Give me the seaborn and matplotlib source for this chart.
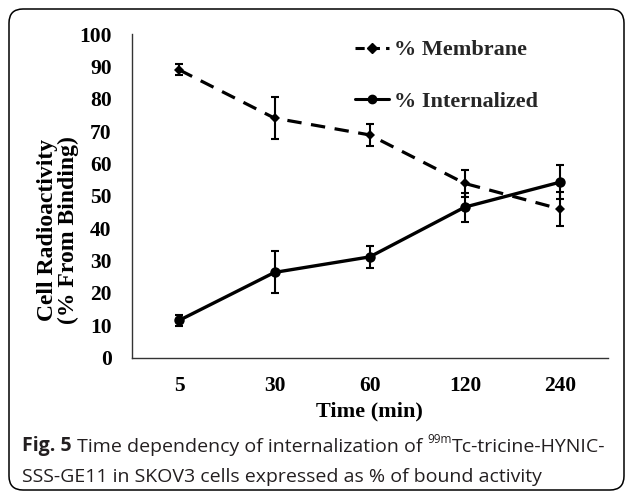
import numpy as np
import pandas as pd
import matplotlib
matplotlib.use("Agg")
import matplotlib.pyplot as plt
import seaborn as sns
from matplotlib.patches import FancyBboxPatch
from matplotlib.lines import Line2D

# ---- data ----
times = ["5", "30", "60", "120", "240"]
membrane = [88.9, 74.0, 68.8, 53.8, 45.9]
membrane_err = [1.7, 6.5, 3.5, 4.2, 5.2]
internalized = [11.5, 26.3, 31.1, 46.5, 54.2]
internalized_err = [1.7, 6.5, 3.3, 4.5, 5.2]
yticks = [0, 10, 20, 30, 40, 50, 60, 70, 80, 90, 100]

sns.set_theme(style="white")
plt.rcParams['font.family'] = ['DejaVu Sans']

W, H = 629, 497
fig = plt.figure(figsize=(W / 100, H / 100), dpi=100)
fig.patch.set_facecolor("white")

# axes placement in pixels
L, R, T, B = 131.7, 607.7, 34.0, 357.5
ax = fig.add_axes([L / W, 1 - B / H, (R - L) / W, (B - T) / H])
ax.set_facecolor("white")

pos = np.arange(len(times))
df = pd.DataFrame({"pos": np.concatenate([pos, pos]),
                   "val": membrane + internalized,
                   "series": ["% Membrane"] * len(times) + ["% Internalized"] * len(times)})

dm = df[df.series == "% Membrane"]
di = df[df.series == "% Internalized"]
sns.lineplot(data=dm, x="pos", y="val", ax=ax, color="black", linewidth=2.3,
             linestyle=(0, (4.5, 3.0)), marker="D", markersize=5, markeredgewidth=0)
sns.lineplot(data=di, x="pos", y="val", ax=ax, color="black", linewidth=2.4,
             marker="o", markersize=7.5, markeredgewidth=0)
ax.errorbar(pos, membrane, yerr=membrane_err, fmt="none", ecolor="black",
            elinewidth=1.5, capsize=3, capthick=1.5)
ax.errorbar(pos, internalized, yerr=internalized_err, fmt="none", ecolor="black",
            elinewidth=1.5, capsize=3, capthick=1.5)

ax.set_xlim(-0.5, len(times) - 0.5)
ax.set_ylim(0, 100)
ax.set_xticks(pos)
ax.set_xticklabels(times)
ax.set_yticks(yticks)
ax.set_yticklabels([str(v) for v in yticks])
ax.set_xlabel("")
ax.set_ylabel("")

serif = "Liberation Serif"
for lab in ax.get_xticklabels() + ax.get_yticklabels():
    lab.set_fontfamily(serif)
    lab.set_fontweight("bold")
    lab.set_fontsize(15.5)
    lab.set_color("black")
ax.tick_params(axis="x", length=0, pad=13)
ax.tick_params(axis="y", length=0, pad=14.5)

for s in ["top", "right"]:
    ax.spines[s].set_visible(False)
for s in ["left", "bottom"]:
    ax.spines[s].set_color("#333333")
    ax.spines[s].set_linewidth(1.0)
ax.grid(False)

# x label
fig.text((L + R) / 2 / W, 1 - 411 / H, "Time (min)", ha="center", va="center",
         family=serif, fontweight="bold", fontsize=16, color="black")
# y label
fig.text(58 / W, 1 - 230 / H, "Cell Radioactivity\n(% From Binding)", ha="center", va="center",
         rotation=90, family=serif, fontweight="bold", fontsize=17, color="black",
         linespacing=0.95, multialignment="center")

# legend
handles = [Line2D([0], [0], color="black", lw=2.2, linestyle=(0, (3, 2)), marker="D", markersize=5),
           Line2D([0], [0], color="black", lw=2.2, marker="o", markersize=6)]
leg = ax.legend(handles, ["% Membrane", "% Internalized"], loc="upper left",
                bbox_to_anchor=(0.47, 0.982), frameon=False, borderpad=0, borderaxespad=0,
                handlelength=1.5, handletextpad=0.25, labelspacing=1.4,
                prop={"family": serif, "weight": "bold", "size": 16})

# frame
frame = FancyBboxPatch((9, H - 490), 615, 481, boxstyle="round,pad=0,rounding_size=14",
                       transform=None, fill=False, edgecolor="black", linewidth=1.1)
fig.patches.append(frame)

# caption
cap_kw = dict(family="Open Sans", fontsize=14, color="#231f20")
t1 = fig.text(22 / W, 1 - 451 / H, "Fig. 5", fontweight="bold", va="baseline", **cap_kw)
t2 = ax.annotate(" Time dependency of internalization of ", xy=(1, 0), xycoords=t1,
                 va="bottom", ha="left", annotation_clip=False, **cap_kw)
t3 = ax.annotate("99m", xy=(1, 0.55), xycoords=t2, va="bottom", ha="left",
                 family="Open Sans", fontsize=8.5, color="#231f20", annotation_clip=False)
t4 = ax.annotate("Tc-tricine-HYNIC-", xy=(1, 0), xycoords=(t3, t2), va="bottom", ha="left",
                 annotation_clip=False, **cap_kw)
fig.text(22 / W, 1 - 482 / H, "SSS-GE11 in SKOV3 cells expressed as % of bound activity",
         va="baseline", **cap_kw)

fig.savefig("out.png", dpi=100, facecolor="white")
